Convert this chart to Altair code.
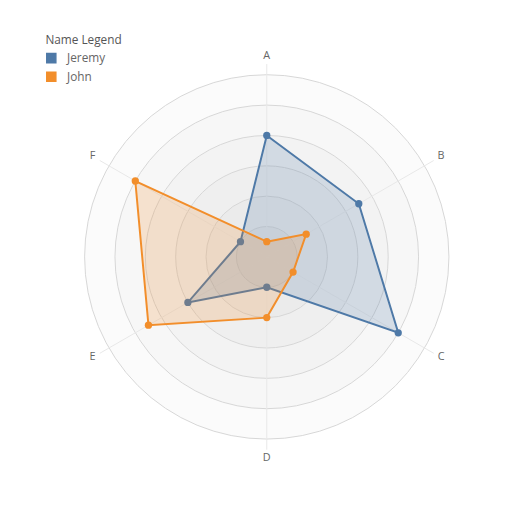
import math
import altair as alt
import pandas as pd

# ---- data ----
axis_labels = ["A", "B", "C", "D", "E", "F"]
names = ["Jeremy", "John"]
jeremy = [4, 3.5, 5, 1, 3, 1]
john = [0.5, 1.5, 1, 2, 4.5, 5]
rings = [6, 5, 4, 3, 2, 1]
colors = ["#4e79a7", "#f28e2b"]

rows = []
for name, vals in zip(names, [jeremy, john]):
    closed = vals + vals[:1]
    for i, v in enumerate(closed):
        rows.append({"Name": name, "axis": axis_labels[i % 6], "idx": i, "value": v})
series_df = pd.DataFrame(rows)
axes_df = pd.DataFrame({"axis": axis_labels, "idx": list(range(len(axis_labels)))})
rings_df = pd.DataFrame({"ring": rings})

DOM = 7
W = 432
PX = W / (2 * DOM)  # pixels per unit
FONT = "Open Sans"

xs = alt.Scale(domain=[-DOM, DOM], nice=False, zero=False)
ys = alt.Scale(domain=[-DOM, DOM], nice=False, zero=False)
cscale = alt.Scale(domain=names, range=colors)
legend = alt.Legend(orient="none", legendX=-9, legendY=-9, symbolType="square",
                    symbolSize=85, symbolOpacity=1, title="Name Legend",
                    labelOffset=10)

rings_layer = alt.Chart(rings_df).transform_calculate(
    cx="0", cy="0",
    sz=f"pow(2 * datum.ring * {PX}, 2)"
).mark_point(shape="circle", filled=False, fill="black", fillOpacity=0.016,
             stroke="#d6d6d6", strokeWidth=1, opacity=1).encode(
    x=alt.X("cx:Q", scale=xs, axis=None),
    y=alt.Y("cy:Q", scale=ys, axis=None),
    size=alt.Size("sz:Q", scale=None),
)

spokes = alt.Chart(axes_df).transform_calculate(
    ang="datum.idx * PI / 3",
    x0="0", y0="0",
    x1="6.35 * sin(datum.ang)", y1="6.35 * cos(datum.ang)"
).mark_rule(color="#e8e8e8", strokeWidth=1).encode(
    x=alt.X("x0:Q", scale=xs, axis=None),
    y=alt.Y("y0:Q", scale=ys, axis=None),
    x2="x1:Q", y2="y1:Q"
)

labels = alt.Chart(axes_df).transform_calculate(
    ang="datum.idx * PI / 3",
    lx="6.63 * sin(datum.ang)", ly="6.63 * cos(datum.ang)"
).mark_text(font=FONT, fontSize=11, color="#666666", baseline="middle", align="center").encode(
    x=alt.X("lx:Q", scale=xs, axis=None),
    y=alt.Y("ly:Q", scale=ys, axis=None),
    text="axis:N"
)

base = alt.Chart(series_df).transform_calculate(
    ang="datum.idx * PI / 3",
    px="datum.value * sin(datum.ang)",
    py="datum.value * cos(datum.ang)"
)

layers = [rings_layer, spokes, labels]
for name in names:
    sub = base.transform_filter(alt.datum.Name == name)
    poly = sub.mark_line(strokeWidth=2, fillOpacity=0.2).encode(
        x=alt.X("px:Q", scale=xs, axis=None),
        y=alt.Y("py:Q", scale=ys, axis=None),
        order="idx:Q",
        color=alt.Color("Name:N", scale=cscale, legend=legend),
        fill=alt.Fill("Name:N", scale=cscale, legend=None),
    )
    pts = sub.transform_filter(alt.datum.idx < 6).mark_circle(size=55, opacity=1).encode(
        x=alt.X("px:Q", scale=xs, axis=None),
        y=alt.Y("py:Q", scale=ys, axis=None),
        color=alt.Color("Name:N", scale=cscale, legend=legend),
    )
    layers += [poly, pts]

chart = alt.layer(*layers).properties(
    width=W, height=W,
    autosize=alt.AutoSizeParams(type="none"),
    padding={"left": 47, "top": 33, "right": 18, "bottom": 20},
).configure_view(strokeWidth=0).configure_legend(
    titleFont=FONT, labelFont=FONT, titleFontWeight="normal", titleFontSize=12,
    labelFontSize=12, titleColor="#555555", labelColor="#666666", rowPadding=3,
    titlePadding=5
)

chart.save("out.html", embed_options={"renderer": "svg", "actions": False})
